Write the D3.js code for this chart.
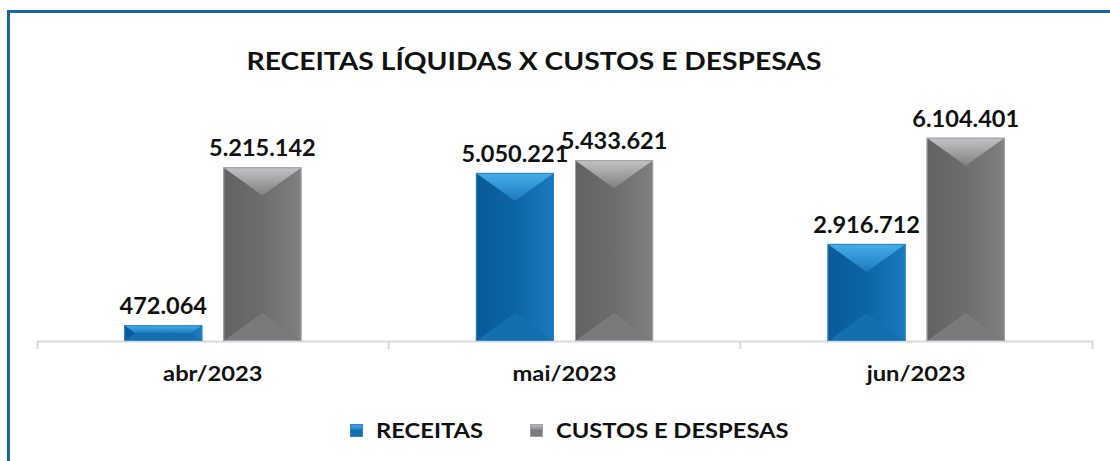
<!DOCTYPE html>
<html>
<head>
<meta charset="utf-8">
<script src="https://cdn.jsdelivr.net/npm/d3@7"></script>
<style>
  html, body { margin: 0; padding: 0; background: #fff; }
  svg { display: block; font-family: "Lato", "Liberation Sans", sans-serif; }
</style>
</head>
<body>
<div id="chart"></div>
<script>
// data
var months = ["abr/2023", "mai/2023", "jun/2023"];
var seriesNames = ["RECEITAS", "CUSTOS E DESPESAS"];
var receitas = [472064, 5050221, 2916712];
var custos = [5215142, 5433621, 6104401];
var titleText = "RECEITAS LÍQUIDAS X CUSTOS E DESPESAS";

var width = 1110, height = 461;
var margin = {top: 108, right: 18, bottom: 120, left: 37};

var palette = {
    "RECEITAS": {base: "#0d65a4", dark: "#0a5a94", light: "#46aee9", mid: "#1a7bbf", bottom: "#136fae", edge: "#2c86c6"},
    "CUSTOS E DESPESAS": {base: "#6d6d70", dark: "#626265", light: "#c4c4c6", mid: "#808083", bottom: "#7a7a7d", edge: "#a2a2a4"}
};

var rows = months.map(function (m, i) {
    return {month: m, values: [
        {series: seriesNames[0], value: receitas[i]},
        {series: seriesNames[1], value: custos[i]}
    ]};
});

var svg = d3.select("#chart").append("svg")
    .attr("width", width)
    .attr("height", height);

// Lato is narrower than the original font, stretch a bit
function widen(sel, factor) {
    sel.each(function () {
        var w = this.getComputedTextLength();
        d3.select(this)
            .attr("textLength", w * factor)
            .attr("lengthAdjust", "spacingAndGlyphs");
    });
}

// gradients
var defs = svg.append("defs");
seriesNames.forEach(function (s, i) {
    var c = palette[s];
    var g = defs.append("linearGradient").attr("id", "body" + i)
        .attr("x1", 0).attr("x2", 1).attr("y1", 0).attr("y2", 0);
    g.append("stop").attr("offset", "0%").attr("stop-color", c.dark);
    g.append("stop").attr("offset", "50%").attr("stop-color", c.base);
    g.append("stop").attr("offset", "100%").attr("stop-color", c.mid);
    var t = defs.append("linearGradient").attr("id", "top" + i)
        .attr("x1", 0).attr("x2", 0).attr("y1", 0).attr("y2", 1);
    t.append("stop").attr("offset", "0%").attr("stop-color", c.light);
    t.append("stop").attr("offset", "100%").attr("stop-color", c.mid);
});

// frame
svg.append("path")
    .attr("d", "M8.5," + height + "V11.5H" + width)
    .attr("fill", "none")
    .attr("stroke", "#1767a7")
    .attr("stroke-width", 3);

var x0 = d3.scaleBand()
    .domain(months)
    .range([margin.left, width - margin.right])
    .padding(0);

var x1 = d3.scaleBand()
    .domain(seriesNames)
    .range([0, x0.bandwidth()])
    .paddingInner(0.212)
    .paddingOuter(0.88);

var y = d3.scaleLinear()
    .domain([0, 7000000])
    .range([height - margin.bottom, margin.top]);

var base = y(0);

// title
svg.append("text")
    .attr("x", 534)
    .attr("y", 70)
    .attr("text-anchor", "middle")
    .attr("font-size", 25)
    .attr("font-weight", 700)
    .attr("fill", "#111")
    .text(titleText)
    .call(widen, 1.13);

function bevelBar(sel, x, top, w, h, idx) {
    var c = palette[seriesNames[idx]];
    var d = Math.min(28, h / 2);
    var inset = d * (w / 2) / 28;
    sel.append("rect")
        .attr("x", x).attr("y", top).attr("width", w).attr("height", h)
        .attr("fill", "url(#body" + idx + ")");
    // top facet
    sel.append("path")
        .attr("d", "M" + x + "," + top + "H" + (x + w) + "L" + (x + w - inset) + "," + (top + d) + "H" + (x + inset) + "Z")
        .attr("fill", "url(#top" + idx + ")");
    // bottom facet
    sel.append("path")
        .attr("d", "M" + x + "," + (top + h) + "H" + (x + w) + "L" + (x + w - inset) + "," + (top + h - d) + "H" + (x + inset) + "Z")
        .attr("fill", c.bottom);
    sel.append("rect")
        .attr("x", x + 0.5).attr("y", top + 0.5).attr("width", Math.max(0, w - 1)).attr("height", Math.max(0, h - 1))
        .attr("fill", "none")
        .attr("stroke", c.edge)
        .attr("stroke-width", 1);
}

// axis
var axis = d3.axisBottom(x0).tickSize(0).tickSizeOuter(8).tickPadding(20);
var axisG = svg.append("g")
    .attr("transform", "translate(0," + base + ")")
    .call(axis);
axisG.select(".domain").attr("stroke", "#d9d9d9").attr("stroke-width", 2);
axisG.selectAll(".tick text")
    .attr("font-size", 21)
    .attr("font-weight", 700)
    .attr("fill", "#111")
    .attr("font-family", "Lato, 'Liberation Sans', sans-serif")
    .attr("dy", "0.95em")
    .call(widen, 1.13);
axisG.selectAll(".sep")
    .data(months.slice(1))
    .enter().append("line")
    .attr("class", "sep")
    .attr("x1", function (m) { return x0(m); })
    .attr("x2", function (m) { return x0(m); })
    .attr("y1", 0).attr("y2", 8)
    .attr("stroke", "#d9d9d9").attr("stroke-width", 2);

// bars
var groups = svg.append("g").selectAll("g.month")
    .data(rows)
    .enter().append("g")
    .attr("class", "month")
    .attr("transform", function (d) { return "translate(" + x0(d.month) + ",0)"; });

groups.each(function (row) {
    var g = d3.select(this);
    row.values.forEach(function (v, i) {
        var bx = x1(v.series);
        var top = y(v.value);
        bevelBar(g.append("g"), bx, top, x1.bandwidth(), base - top, i);
        g.append("text")
            .attr("x", bx + x1.bandwidth() / 2)
            .attr("y", top - 11)
            .attr("text-anchor", "middle")
            .attr("font-size", 22)
            .attr("font-weight", 700)
            .attr("fill", "#111")
            .text(d3.format(",")(v.value).replace(/,/g, "."))
            .call(widen, 1.07);
    });
});

// legend
var legendX = [350, 530];
var legend = svg.append("g").selectAll("g.leg")
    .data(seriesNames)
    .enter().append("g")
    .attr("class", "leg")
    .attr("transform", function (d, i) { return "translate(" + legendX[i] + ",424)"; });

legend.each(function (s, i) {
    var g = d3.select(this);
    bevelBar(g.append("g"), 0, 0, 13, 13, i);
    g.append("text")
        .attr("x", 26)
        .attr("y", 14)
        .attr("font-size", 21)
        .attr("font-weight", 700)
        .attr("fill", "#111")
        .text(s)
        .call(widen, 1.13);
});
</script>
</body>
</html>
